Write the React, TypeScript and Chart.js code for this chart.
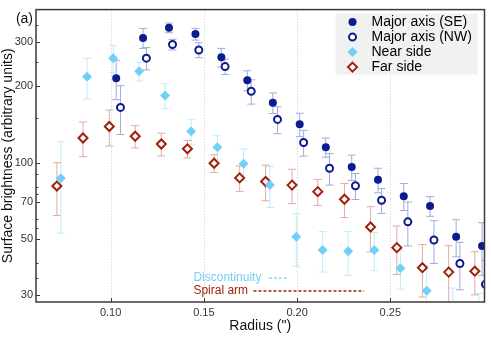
import React, { useEffect, useRef } from "react";
import { Chart, registerables } from "chart.js";

Chart.register(...registerables);

const FONT = '"Liberation Sans", Arial, Helvetica, sans-serif';

// ---- data ----
const seX = [0.103, 0.1174, 0.1313, 0.1455, 0.1594, 0.1733, 0.187, 0.2014, 0.2154, 0.2293, 0.2434, 0.2572, 0.2713, 0.2853, 0.2992];
const seY = [215, 310, 340, 321, 260, 211, 172, 141.5, 115, 96, 85.5, 73.7, 67.4, 51, 46.9];
const seErr = [38, 28, 15, 17, 22, 19, 16, 15, 10, 11, 9.5, 9, 6, 8.5, 11];

const nwX = [0.1053, 0.1192, 0.1332, 0.1473, 0.1614, 0.1754, 0.1895, 0.2035, 0.2174, 0.2313, 0.2453, 0.2594, 0.2734, 0.2873, 0.301];
const nwY = [165, 258, 292, 278, 239, 191, 148, 120, 95, 81, 71, 58.4, 49.5, 40, 33.1];
const nwErr = [36, 26, 14, 19, 16.5, 21, 18, 14, 13.5, 9.5, 8, 11.5, 9.5, 8.5, 8];

const nearX = [0.0733, 0.0874, 0.1014, 0.1153, 0.1292, 0.1432, 0.1573, 0.1713, 0.1854, 0.1996, 0.2137, 0.2274, 0.2414, 0.2554, 0.2695, 0.2835, 0.2975];
const nearY = [86.7, 218, 258, 229, 184, 133, 115, 99, 81.5, 51, 45.2, 44.7, 45.2, 38.3, 31.2, 24, 23];
const nearErr = [34, 40, 32, 19.5, 20.5, 15, 12.5, 14, 15, 12, 8.2, 8.8, 7.7, 6.6, 8, 8, 7.5];

const farX = [0.0712, 0.0852, 0.0993, 0.1132, 0.1272, 0.1412, 0.1555, 0.1692, 0.1831, 0.1973, 0.2111, 0.2254, 0.2394, 0.2535, 0.2672, 0.2813, 0.2953];
const farY = [80.8, 125, 138.7, 127, 118.4, 113.3, 99.4, 87, 84.2, 81.5, 76.8, 71.7, 55.7, 46.2, 38.5, 37, 37.3];
const farErr = [19, 19.5, 22.5, 12.8, 12.2, 9, 8, 10, 13.5, 12.6, 9, 11, 11.3, 10, 9, 10, 7.2];

const xTicks = [0.1, 0.15, 0.2, 0.25];
const yTicks = [30, 50, 70, 100, 200, 300];
const yMinor = [35, 40, 55, 60, 75, 80, 90, 150, 250, 350];

const seriesNames = ["Major axis (SE)", "Major axis (NW)", "Near side", "Far side"];

// annotation labels: [text, xStart, yValue, lineStart, lineEnd]
const noteText = ["Discontinuity", "Spiral arm"];
const noteX = [0.1444, 0.1444];
const noteY = [35.2, 31.3];
const noteLineX0 = [0.1849, 0.1766];
const noteLineX1 = [0.1955, 0.2359];

const NAVY = "#0b1c8e";
const NAVY_ERR = "#a3aad9";
const SKY = "#72d0f8";
const SKY_ERR = "#c3eafb";
const RED = "#a11f0c";
const RED_ERR = "#e2aaa2";

const toPts = (xs: number[], ys: number[]) => xs.map((x, i) => ({ x, y: ys[i] }));

const errs = [seErr, nwErr, nearErr, farErr];
const errColors = [NAVY_ERR, NAVY_ERR, SKY_ERR, RED_ERR];

const errorBarPlugin = {
  id: "errorBars",
  beforeDatasetsDraw(chart: any) {
    const { ctx, chartArea: a } = chart;
    const xs = chart.scales.x;
    const ys = chart.scales.y;
    ctx.save();
    ctx.beginPath();
    ctx.rect(a.left, a.top, a.right - a.left, a.bottom - a.top);
    ctx.clip();
    // dotted vertical grid
    ctx.strokeStyle = "#c8c8c8";
    ctx.lineWidth = 1;
    ctx.setLineDash([1, 2]);
    xTicks.forEach((v) => {
      const px = Math.round(xs.getPixelForValue(v)) + 0.5;
      ctx.beginPath();
      ctx.moveTo(px, a.top);
      ctx.lineTo(px, a.bottom);
      ctx.stroke();
    });
    ctx.setLineDash([]);
    chart.data.datasets.forEach((ds: any, di: number) => {
      const e = errs[di];
      ctx.strokeStyle = errColors[di];
      ctx.lineWidth = 1;
      ds.data.forEach((p: any, i: number) => {
        const px = xs.getPixelForValue(p.x);
        const lo = Math.max(p.y - e[i], 1);
        const y0 = ys.getPixelForValue(p.y + e[i]);
        const y1 = ys.getPixelForValue(lo);
        ctx.beginPath();
        ctx.moveTo(px, y0);
        ctx.lineTo(px, y1);
        ctx.moveTo(px - 4, y0);
        ctx.lineTo(px + 4, y0);
        ctx.moveTo(px - 4, y1);
        ctx.lineTo(px + 4, y1);
        ctx.stroke();
      });
    });
    ctx.restore();
  },
};

function drawMarker(ctx: CanvasRenderingContext2D, kind: number, x: number, y: number) {
  ctx.save();
  if (kind === 0) {
    ctx.fillStyle = NAVY;
    ctx.beginPath();
    ctx.arc(x, y, 4, 0, Math.PI * 2);
    ctx.fill();
  } else if (kind === 1) {
    ctx.fillStyle = "#fff";
    ctx.strokeStyle = NAVY;
    ctx.lineWidth = 2;
    ctx.beginPath();
    ctx.arc(x, y, 3.5, 0, Math.PI * 2);
    ctx.fill();
    ctx.stroke();
  } else {
    const r = kind === 2 ? 5 : 4.5;
    ctx.beginPath();
    ctx.moveTo(x, y - r);
    ctx.lineTo(x + r, y);
    ctx.lineTo(x, y + r);
    ctx.lineTo(x - r, y);
    ctx.closePath();
    if (kind === 2) {
      ctx.fillStyle = SKY;
      ctx.fill();
    } else {
      ctx.fillStyle = "#fff";
      ctx.fill();
      ctx.strokeStyle = RED;
      ctx.lineWidth = 2;
      ctx.stroke();
    }
  }
  ctx.restore();
}

const decorPlugin = {
  id: "decor",
  afterDatasetsDraw(chart: any) {
    const { ctx, chartArea: a } = chart;
    const xs = chart.scales.x;
    const ys = chart.scales.y;
    ctx.save();
    // annotations
    ctx.font = `12px ${FONT}`;
    ctx.textBaseline = "middle";
    ctx.textAlign = "left";
    const noteColors = [SKY, RED];
    noteText.forEach((t, i) => {
      const y = ys.getPixelForValue(noteY[i]);
      ctx.fillStyle = noteColors[i];
      ctx.fillText(t, xs.getPixelForValue(noteX[i]), y);
      ctx.strokeStyle = noteColors[i];
      ctx.lineWidth = 1.3;
      ctx.setLineDash([3, 2]);
      ctx.beginPath();
      ctx.moveTo(xs.getPixelForValue(noteLineX0[i]), y + 0.5);
      ctx.lineTo(xs.getPixelForValue(noteLineX1[i]), y + 0.5);
      ctx.stroke();
      ctx.setLineDash([]);
    });
    // legend
    const bx = a.right - 149;
    const by = a.top + 4;
    ctx.fillStyle = "#f1f1f1";
    ctx.fillRect(bx, by, 142, 61);
    ctx.font = `14px ${FONT}`;
    ctx.fillStyle = "#000";
    seriesNames.forEach((n, i) => {
      const y = by + 8.5 + i * 15;
      drawMarker(ctx, i, bx + 17, y);
      ctx.fillStyle = "#000";
      ctx.fillText(n, bx + 36, y + 0.5);
    });
    // frame
    ctx.strokeStyle = "#3a3a3a";
    ctx.lineWidth = 1.5;
    ctx.strokeRect(a.left, a.top, a.right - a.left, a.bottom - a.top);
    // ticks
    ctx.lineWidth = 1;
    ctx.strokeStyle = "#3a3a3a";
    xTicks.forEach((v) => {
      const px = Math.round(xs.getPixelForValue(v)) + 0.5;
      ctx.beginPath();
      ctx.moveTo(px, a.bottom);
      ctx.lineTo(px, a.bottom - 4);
      ctx.stroke();
    });
    yTicks.forEach((v) => {
      const py = Math.round(ys.getPixelForValue(v)) + 0.5;
      ctx.beginPath();
      ctx.moveTo(a.left, py);
      ctx.lineTo(a.left + 4, py);
      ctx.stroke();
    });
    yMinor.forEach((v) => {
      const py = Math.round(ys.getPixelForValue(v)) + 0.5;
      ctx.beginPath();
      ctx.moveTo(a.left, py);
      ctx.lineTo(a.left + 2.5, py);
      ctx.stroke();
    });
    // panel label
    ctx.font = `14px ${FONT}`;
    ctx.fillStyle = "#111";
    ctx.textAlign = "right";
    ctx.fillText("(a)", a.left - 3, a.top + 10);
    ctx.restore();
  },
};

export default function App() {
  const ref = useRef<HTMLCanvasElement>(null);
  useEffect(() => {
    document.body.style.margin = "0";
    const canvas = ref.current!;
    const chart = new Chart(canvas, {
      type: "scatter",
      data: {
        datasets: [
          {
            label: seriesNames[0],
            data: toPts(seX, seY),
            pointStyle: "circle",
            pointRadius: 4,
            backgroundColor: NAVY,
            borderColor: NAVY,
            borderWidth: 0,
            clip: 0,
          },
          {
            label: seriesNames[1],
            data: toPts(nwX, nwY),
            pointStyle: "circle",
            pointRadius: 3.5,
            backgroundColor: "#ffffff",
            borderColor: NAVY,
            borderWidth: 2,
            clip: 0,
          },
          {
            label: seriesNames[2],
            data: toPts(nearX, nearY),
            pointStyle: "rectRot",
            pointRadius: 5,
            backgroundColor: SKY,
            borderColor: SKY,
            borderWidth: 0,
            clip: 0,
          },
          {
            label: seriesNames[3],
            data: toPts(farX, farY),
            pointStyle: "rectRot",
            pointRadius: 4.5,
            backgroundColor: "#ffffff",
            borderColor: RED,
            borderWidth: 2,
            clip: 0,
          },
        ] as any,
      },
      options: {
        animation: false,
        responsive: false,
        layout: { padding: { top: 4, right: 4, left: 0, bottom: 0 } },
        plugins: {
          legend: { display: false },
          tooltip: { enabled: false },
        },
        scales: {
          x: {
            type: "linear",
            min: 0.06,
            max: 0.3005,
            afterBuildTicks: (s: any) => {
              s.ticks = xTicks.map((v) => ({ value: v }));
            },
            afterFit: (s: any) => {
              s.height = 37;
            },
            ticks: {
              callback: (v: any) => Number(v).toFixed(2),
              font: { size: 11, family: FONT },
              color: "#333",
              padding: 4,
              maxRotation: 0,
              autoSkip: false,
            },
            grid: { display: false, drawTicks: false },
            border: { display: false },
            title: {
              display: true,
              text: 'Radius (")',
              font: { size: 14, family: FONT },
              color: "#111",
              padding: { top: 0, bottom: 4 },
            },
          },
          y: {
            type: "logarithmic",
            min: 28.2,
            max: 401,
            afterBuildTicks: (s: any) => {
              s.ticks = yTicks.map((v) => ({ value: v }));
            },
            afterFit: (s: any) => {
              s.width = 36;
            },
            ticks: {
              callback: (v: any) => String(v),
              font: { size: 11, family: FONT },
              color: "#333",
              padding: 3,
              autoSkip: false,
            },
            grid: { display: false, drawTicks: false },
            border: { display: false },
            title: {
              display: true,
              text: "Surface brightness (arbitrary units)",
              font: { size: 14, family: FONT },
              color: "#111",
              padding: { top: 0, bottom: 0 },
            },
          },
        },
      } as any,
      plugins: [errorBarPlugin, decorPlugin],
    });
    return () => chart.destroy();
  }, []);
  return (
    <div style={{ position: "absolute", left: 0, top: 0, width: 491, height: 339 }}>
      <canvas ref={ref} width={491} height={339} style={{ display: "block" }} />
    </div>
  );
}
